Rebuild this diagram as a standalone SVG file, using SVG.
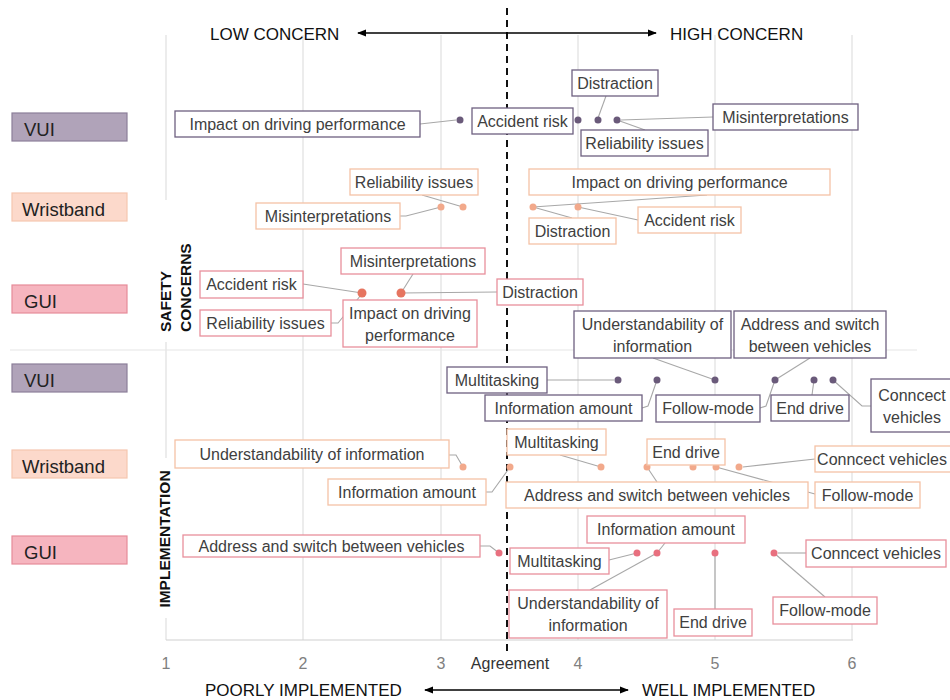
<svg xmlns="http://www.w3.org/2000/svg" width="950" height="700" viewBox="0 0 950 700">
<defs>
<marker id="ah" viewBox="0 0 10 10" refX="9" refY="5" markerWidth="7" markerHeight="7" orient="auto-start-reverse"><path d="M0,1 L10,5 L0,9 z" fill="#000"/></marker>
<style>
text{font-family:"Liberation Sans",Arial,sans-serif;}
.lb{font-size:16px;fill:#404040;text-anchor:middle;}
.hd{font-size:17px;fill:#111;}
.ax{font-size:16px;fill:#808080;text-anchor:middle;}
.cat{font-size:18.5px;fill:#222;}
.vt{font-size:15.5px;font-weight:bold;fill:#111;}
.grid{stroke:#e0e0e0;stroke-width:1.2;fill:none;}
.cn{stroke:#a8a8a8;stroke-width:1.1;fill:none;}
.bv{fill:#fff;stroke:#6e6080;stroke-width:1.3;}
.bw{fill:#fff;stroke:#f5c2a6;stroke-width:1.3;}
.bg{fill:#fff;stroke:#e8909c;stroke-width:1.3;}
.dv{fill:#6a5a7a;}
.dw{fill:#f2a98b;}
.dg{fill:#e67560;}
.dg2{fill:#e8707f;}
</style>
</defs>
<rect width="950" height="700" fill="#fff"/>

<g id="grid">
<line class="grid" x1="166" y1="35" x2="166" y2="200" stroke="#d6d6d6"/>
<line class="grid" x1="166" y1="342" x2="166" y2="458" stroke="#d0d0d0"/>
<line class="grid" x1="166" y1="618" x2="166" y2="640" stroke="#d0d0d0"/>
<line class="grid" x1="303" y1="35" x2="303" y2="640"/>
<line class="grid" x1="441" y1="35" x2="441" y2="640"/>
<line class="grid" x1="578" y1="35" x2="578" y2="640"/>
<line class="grid" x1="715" y1="35" x2="715" y2="640"/>
<line class="grid" x1="852" y1="35" x2="852" y2="640"/>
<line x1="166" y1="640" x2="853" y2="640" stroke="#d0d0d0" stroke-width="1.2"/>
<line x1="10" y1="350" x2="917" y2="350" stroke="#e6e6e6" stroke-width="1.2"/>
<line x1="507" y1="8" x2="507" y2="652" stroke="#111" stroke-width="2" stroke-dasharray="7,5"/>
</g>

<g id="axes">
<text class="hd" x="210" y="40">LOW CONCERN</text>
<line x1="358" y1="33" x2="656" y2="33" stroke="#000" stroke-width="1.3" marker-start="url(#ah)" marker-end="url(#ah)"/>
<text class="hd" x="670" y="40">HIGH CONCERN</text>
<text class="hd" x="205" y="696">POORLY IMPLEMENTED</text>
<line x1="425" y1="690" x2="628" y2="690" stroke="#000" stroke-width="1.3" marker-start="url(#ah)" marker-end="url(#ah)"/>
<text class="hd" x="642" y="696">WELL IMPLEMENTED</text>
<text class="ax" x="166" y="669">1</text>
<text class="ax" x="303" y="669">2</text>
<text class="ax" x="441" y="669">3</text>
<text class="ax" x="510" y="669" style="fill:#333">Agreement</text>
<text class="ax" x="578" y="669">4</text>
<text class="ax" x="715" y="669">5</text>
<text class="ax" x="852" y="669">6</text>
<text class="vt" transform="translate(171,332) rotate(-90)">SAFETY</text>
<text class="vt" transform="translate(191,332) rotate(-90)">CONCERNS</text>
<text class="vt" text-anchor="middle" transform="translate(170,539) rotate(-90)">IMPLEMENTATION</text>
</g>

<g id="categories">
<g id="cat-vui-safety"><rect x="12" y="113" width="115" height="28" fill="#b0a3b9" stroke="#8c7f99" stroke-width="1.2"/><text class="cat" x="24" y="136">VUI</text></g>
<g id="cat-wrist-safety"><rect x="12" y="193" width="115" height="28" fill="#fcd9cb" stroke="#f5c6b0" stroke-width="1.2"/><text class="cat" x="22" y="216">Wristband</text></g>
<g id="cat-gui-safety"><rect x="12" y="285" width="115" height="28" fill="#f6b5bf" stroke="#e68c99" stroke-width="1.2"/><text class="cat" x="24" y="308">GUI</text></g>
<g id="cat-vui-impl"><rect x="12" y="364" width="115" height="28" fill="#b0a3b9" stroke="#8c7f99" stroke-width="1.2"/><text class="cat" x="24" y="387">VUI</text></g>
<g id="cat-wrist-impl"><rect x="12" y="450" width="115" height="28" fill="#fcd9cb" stroke="#f5c6b0" stroke-width="1.2"/><text class="cat" x="22" y="473">Wristband</text></g>
<g id="cat-gui-impl"><rect x="12" y="536" width="115" height="28" fill="#f6b5bf" stroke="#e68c99" stroke-width="1.2"/><text class="cat" x="24" y="559">GUI</text></g>
</g>

<g id="connectors">
<polyline class="cn" points="420,124 456,120"/>
<polyline class="cn" points="606,96 598,118"/>
<polyline class="cn" points="713,117 621,120"/>
<polyline class="cn" points="617,120 645,130"/>
<polyline class="cn" points="422,195 463,207"/>
<polyline class="cn" points="400,216 406,216 441,207"/>
<polyline class="cn" points="707,195 533,207"/>
<polyline class="cn" points="533,207 572,218"/>
<polyline class="cn" points="578,207 638,220"/>
<polyline class="cn" points="303,284 362,293"/>
<polyline class="cn" points="331,323 338,323 361,295"/>
<polyline class="cn" points="413,274 401,293"/>
<polyline class="cn" points="497,292 401,293"/>
<polyline class="cn" points="547,380 614,380"/>
<polyline class="cn" points="642,408 648,406 657,380"/>
<polyline class="cn" points="653,358 715,380"/>
<polyline class="cn" points="810,358 775,380"/>
<polyline class="cn" points="760,408 766,406 775,380"/>
<polyline class="cn" points="812,395 814,380"/>
<polyline class="cn" points="833,380 862,406 871,406"/>
<polyline class="cn" points="449,455 456,455 463,467"/>
<polyline class="cn" points="486,492 492,492 510,467"/>
<polyline class="cn" points="560,455 601,467"/>
<polyline class="cn" points="647,467 657,482"/>
<polyline class="cn" points="716,467 815,494"/>
<polyline class="cn" points="815,459 743,467"/>
<polyline class="cn" points="480,546 490,546 499,553"/>
<polyline class="cn" points="665,543 657,553"/>
<polyline class="cn" points="609,560 637,553"/>
<polyline class="cn" points="590,590 657,553"/>
<polyline class="cn" points="715,609 715,553"/>
<polyline class="cn" points="806,553 778,553"/>
<polyline class="cn" points="774,553 825,597"/>
</g>

<g id="dots">
<circle class="dv" cx="460" cy="120" r="3.5"/><circle class="dv" cx="578" cy="120" r="3.5"/><circle class="dv" cx="598" cy="120" r="3.5"/><circle class="dv" cx="617" cy="120" r="3.5"/>
<circle class="dw" cx="441" cy="207" r="3.5"/><circle class="dw" cx="463" cy="207" r="3.5"/><circle class="dw" cx="533" cy="207" r="3.5"/><circle class="dw" cx="578" cy="207" r="3.5"/>
<circle class="dg" cx="362" cy="293" r="4.5"/><circle class="dg" cx="401" cy="293" r="4.5"/>
<circle class="dv" cx="618" cy="380" r="3.5"/><circle class="dv" cx="657" cy="380" r="3.5"/><circle class="dv" cx="715" cy="380" r="3.5"/><circle class="dv" cx="775" cy="380" r="3.5"/><circle class="dv" cx="814" cy="380" r="3.5"/><circle class="dv" cx="833" cy="380" r="3.5"/>
<circle class="dw" cx="463" cy="467" r="3.5"/><circle class="dw" cx="510" cy="467" r="3.5"/><circle class="dw" cx="601" cy="467" r="3.5"/><circle class="dw" cx="647" cy="467" r="3.5"/><circle class="dw" cx="693" cy="467" r="3.5"/><circle class="dw" cx="716" cy="467" r="3.5"/><circle class="dw" cx="739" cy="467" r="3.5"/>
<circle class="dg2" cx="499" cy="553" r="3.5"/><circle class="dg2" cx="637" cy="553" r="3.5"/><circle class="dg2" cx="657" cy="553" r="3.5"/><circle class="dg2" cx="715" cy="553" r="3.5"/><circle class="dg2" cx="774" cy="553" r="3.5"/>
</g>

<g id="s-vui-impact"><rect class="bv" x="175" y="111" width="245" height="26"/><text class="lb" x="297.5" y="130">Impact on driving performance</text></g>
<g id="s-vui-accident"><rect class="bv" x="472" y="108" width="101" height="26"/><text class="lb" x="522.5" y="127">Accident risk</text></g>
<g id="s-vui-distraction"><rect class="bv" x="572" y="70" width="86" height="26"/><text class="lb" x="615" y="89">Distraction</text></g>
<g id="s-vui-misint"><rect class="bv" x="713" y="104" width="145" height="26"/><text class="lb" x="785.5" y="123">Misinterpretations</text></g>
<g id="s-vui-reliab"><rect class="bv" x="581" y="130" width="127" height="26"/><text class="lb" x="644.5" y="149">Reliability issues</text></g>

<g id="s-wr-reliab"><rect class="bw" x="350" y="169" width="128" height="26"/><text class="lb" x="414" y="188">Reliability issues</text></g>
<g id="s-wr-misint"><rect class="bw" x="256" y="203" width="144" height="26"/><text class="lb" x="328" y="222">Misinterpretations</text></g>
<g id="s-wr-impact"><rect class="bw" x="529" y="169" width="301" height="26"/><text class="lb" x="679.5" y="188">Impact on driving performance</text></g>
<g id="s-wr-distraction"><rect class="bw" x="529" y="218" width="87" height="26"/><text class="lb" x="572.5" y="237">Distraction</text></g>
<g id="s-wr-accident"><rect class="bw" x="638" y="207" width="103" height="26"/><text class="lb" x="689.5" y="226">Accident risk</text></g>

<g id="s-gui-accident"><rect class="bg" x="200" y="271" width="103" height="27"/><text class="lb" x="251.5" y="290">Accident risk</text></g>
<g id="s-gui-reliab"><rect class="bg" x="200" y="310" width="131" height="26"/><text class="lb" x="265.5" y="329">Reliability issues</text></g>
<g id="s-gui-misint"><rect class="bg" x="341" y="248" width="144" height="26"/><text class="lb" x="413" y="267">Misinterpretations</text></g>
<g id="s-gui-impact"><rect class="bg" x="343" y="300" width="134" height="47"/><text class="lb" x="410" y="319">Impact on driving</text><text class="lb" x="410" y="341">performance</text></g>
<g id="s-gui-distraction"><rect class="bg" x="497" y="279" width="86" height="26"/><text class="lb" x="540" y="298">Distraction</text></g>

<g id="i-vui-multi"><rect class="bv" x="447" y="367" width="100" height="26"/><text class="lb" x="497" y="386">Multitasking</text></g>
<g id="i-vui-info"><rect class="bv" x="485" y="395" width="157" height="26"/><text class="lb" x="563.5" y="414">Information amount</text></g>
<g id="i-vui-underst"><rect class="bv" x="574" y="311" width="157" height="47"/><text class="lb" x="652.5" y="330">Understandability of</text><text class="lb" x="652.5" y="352">information</text></g>
<g id="i-vui-address"><rect class="bv" x="734" y="311" width="152" height="47"/><text class="lb" x="810" y="330">Address and switch</text><text class="lb" x="810" y="352">between vehicles</text></g>
<g id="i-vui-follow"><rect class="bv" x="656" y="395" width="104" height="27"/><text class="lb" x="708" y="414">Follow-mode</text></g>
<g id="i-vui-end"><rect class="bv" x="771" y="395" width="78" height="26"/><text class="lb" x="810" y="414">End drive</text></g>
<g id="i-vui-connect"><rect class="bv" x="871" y="379" width="82" height="53"/><text class="lb" x="912" y="401">Conncect</text><text class="lb" x="912" y="423">vehicles</text></g>

<g id="i-wr-underst"><rect class="bw" x="175" y="440" width="274" height="28"/><text class="lb" x="312" y="460">Understandability of information</text></g>
<g id="i-wr-info"><rect class="bw" x="328" y="479" width="158" height="26"/><text class="lb" x="407" y="498">Information amount</text></g>
<g id="i-wr-multi"><rect class="bw" x="507" y="429" width="99" height="26"/><text class="lb" x="556.5" y="448">Multitasking</text></g>
<g id="i-wr-end"><rect class="bw" x="647" y="439" width="78" height="26"/><text class="lb" x="686" y="458">End drive</text></g>
<g id="i-wr-address"><rect class="bw" x="506" y="482" width="302" height="26"/><text class="lb" x="657" y="501">Address and switch between vehicles</text></g>
<g id="i-wr-follow"><rect class="bw" x="815" y="482" width="105" height="26"/><text class="lb" x="867.5" y="501">Follow-mode</text></g>
<g id="i-wr-connect"><rect class="bw" x="815" y="446" width="137" height="26"/><text class="lb" x="882" y="465">Conncect vehicles</text></g>

<g id="i-gui-address"><rect class="bg" x="183" y="535" width="297" height="22"/><text class="lb" x="331.5" y="552">Address and switch between vehicles</text></g>
<g id="i-gui-info"><rect class="bg" x="587" y="516" width="158" height="27"/><text class="lb" x="666" y="535">Information amount</text></g>
<g id="i-gui-multi"><rect class="bg" x="510" y="548" width="99" height="26"/><text class="lb" x="559.5" y="567">Multitasking</text></g>
<g id="i-gui-underst"><rect class="bg" x="509" y="590" width="158" height="48"/><text class="lb" x="588" y="609">Understandability of</text><text class="lb" x="588" y="631">information</text></g>
<g id="i-gui-end"><rect class="bg" x="674" y="609" width="78" height="27"/><text class="lb" x="713" y="628">End drive</text></g>
<g id="i-gui-connect"><rect class="bg" x="806" y="540" width="140" height="27"/><text class="lb" x="876" y="559">Conncect vehicles</text></g>
<g id="i-gui-follow"><rect class="bg" x="773" y="597" width="104" height="27"/><text class="lb" x="825" y="616">Follow-mode</text></g>
</svg>
